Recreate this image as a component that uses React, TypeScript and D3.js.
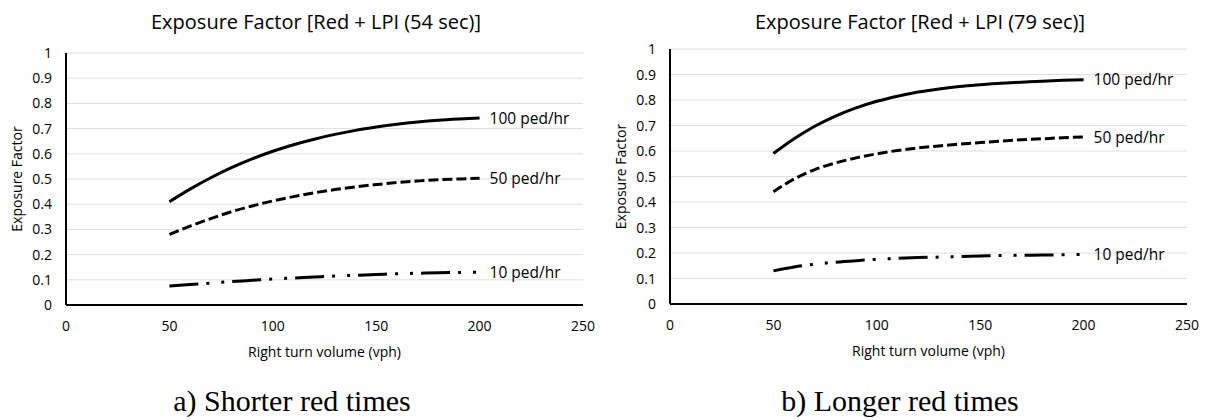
import React from 'react'
import { scaleLinear, line, curveMonotoneX, range } from 'd3'

// right turn volume (vph), same for every curve
const volumes = [50, 60, 70, 80, 90, 100, 110, 120, 130, 140, 150, 160, 170, 180, 190, 200]

// a) shorter red times (54 sec)
const shortPed100 = [0.41, 0.46, 0.505, 0.545, 0.58, 0.61, 0.636, 0.658, 0.677, 0.693, 0.706, 0.717, 0.726, 0.733, 0.738, 0.742]
const shortPed50 = [0.28, 0.313, 0.343, 0.37, 0.393, 0.413, 0.43, 0.445, 0.458, 0.469, 0.478, 0.486, 0.492, 0.497, 0.50, 0.503]
const shortPed10 = [0.075, 0.081, 0.087, 0.093, 0.098, 0.103, 0.107, 0.111, 0.115, 0.118, 0.121, 0.124, 0.126, 0.128, 0.129, 0.13]

// b) longer red times (79 sec)
const longPed100 = [0.59, 0.648, 0.697, 0.737, 0.769, 0.795, 0.815, 0.831, 0.843, 0.853, 0.86, 0.866, 0.87, 0.874, 0.877, 0.879]
const longPed50 = [0.44, 0.49, 0.527, 0.553, 0.573, 0.589, 0.602, 0.612, 0.62, 0.627, 0.633, 0.639, 0.644, 0.648, 0.652, 0.655]
const longPed10 = [0.13, 0.145, 0.156, 0.164, 0.17, 0.175, 0.179, 0.182, 0.184, 0.186, 0.188, 0.19, 0.191, 0.192, 0.193, 0.194]

const seriesLabels = ['100 ped/hr', '50 ped/hr', '10 ped/hr']
const xTicks = [0, 50, 100, 150, 200, 250]
const yTicks = range(0, 11).map(d => d / 10)

const font = '"Open Sans", sans-serif'
const dashes = ['none', '10 4', '29 8 3 12 3 8']

const Chart = ({ title, caption, series, left, right, top0, top1, titleX, capX }) => {
    const xScale = scaleLinear().domain([0, 250]).range([left, right])
    const yScale = scaleLinear().domain([0, 1]).range([top0, top1])
    const path = line().x(d => xScale(d[0])).y(d => yScale(d[1])).curve(curveMonotoneX)

    return (
        <g>
            <text x={titleX} y={29} textAnchor="middle" fontSize={20} fontFamily={font} fill="#000">{title}</text>
            {yTicks.slice(1).map(t => (
                <line key={t} x1={left} x2={right} y1={yScale(t)} y2={yScale(t)} stroke="#dedede" strokeWidth={1} />
            ))}
            {yTicks.map(t => (
                <text key={t} x={left - 14} y={yScale(t)} dy="0.36em" textAnchor="end" fontSize={14} fontFamily={font} fill="#000">{t}</text>
            ))}
            {xTicks.map(t => (
                <text key={t} x={xScale(t)} y={top0 + 26} textAnchor="middle" fontSize={14} fontFamily={font} fill="#000">{t}</text>
            ))}
            <line x1={left} x2={left} y1={top1} y2={top0} stroke="#000" strokeWidth={2} />
            <line x1={left} x2={right} y1={top0} y2={top0} stroke="#000" strokeWidth={2} />
            {series.map((vals, i) => {
                const pts = volumes.map((v, j) => [v, vals[j]])
                const last = pts[pts.length - 1]
                return (
                    <g key={i}>
                        <path d={path(pts)} fill="none" stroke="#000" strokeWidth={3} strokeDasharray={dashes[i]} />
                        <text x={xScale(last[0]) + 10} y={yScale(last[1])} dy="0.36em" fontSize={15.5} fontFamily={font} fill="#000">{seriesLabels[i]}</text>
                    </g>
                )
            })}
            <text x={(left + right) / 2} y={top0 + 52} textAnchor="middle" fontSize={14} fontFamily={font} fill="#000">Right turn volume (vph)</text>
            <text transform={`translate(${left - 44},${(top0 + top1) / 2}) rotate(-90)`} textAnchor="middle" fontSize={14} fontFamily={font} fill="#000">Exposure Factor</text>
            <text x={capX} y={411} textAnchor="middle" fontSize={30} fontFamily='"Liberation Serif", "Times New Roman", serif' fill="#000">{caption}</text>
        </g>
    )
}

export default function App() {
    return (
        <svg width={1211} height={420} style={{ position: 'absolute', left: 0, top: 0, background: '#fff' }}>
            <Chart title="Exposure Factor [Red + LPI (54 sec)]" caption="a) Shorter red times"
                series={[shortPed100, shortPed50, shortPed10]} left={66} right={583} top0={305} top1={53} titleX={316} capX={292} />
            <Chart title="Exposure Factor [Red + LPI (79 sec)]" caption="b) Longer red times"
                series={[longPed100, longPed50, longPed10]} left={670} right={1187} top0={304} top1={49} titleX={920} capX={900} />
        </svg>
    )
}
